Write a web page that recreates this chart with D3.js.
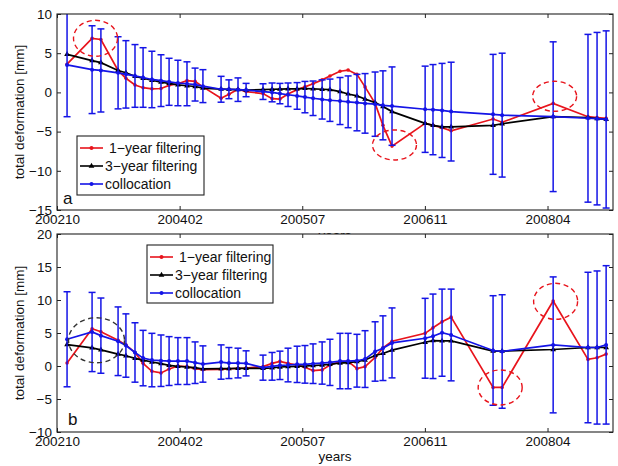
<!DOCTYPE html>
<html>
<head>
<meta charset="utf-8">
<script src="https://cdn.jsdelivr.net/npm/d3@7"></script>
<style>
  body { margin: 0; background: #fff; }
  text { font-family: "Liberation Sans", Arial, Helvetica, sans-serif; }
</style>
</head>
<body>
<svg id="chart" width="618" height="466"></svg>
<script>
// epochs shared by both panels
const dates = [
  "2002-11-25","2003-03-07","2003-04-12","2003-06-21","2003-07-23","2003-08-29","2003-10-01","2003-11-06",
  "2003-12-13","2004-01-15","2004-02-20","2004-03-28","2004-04-30","2004-06-01","2004-08-14","2004-09-15",
  "2004-10-22","2004-11-24","2005-02-01","2005-03-10","2005-04-11","2005-05-14","2005-06-20","2005-07-22",
  "2005-08-24","2005-09-30","2005-11-01","2005-12-12","2006-01-14","2006-02-19","2006-03-24","2006-05-04",
  "2006-06-05","2006-07-12","2006-11-24","2006-12-26","2007-02-01","2007-03-10","2007-08-28","2007-10-04",
  "2008-04-29","2008-09-18","2008-10-25","2008-12-01"
];
const xDomain = ["2002-10-15", "2008-12-29"];
const xTickDates = ["2002-10-15", "2004-02-27", "2005-07-11", "2006-11-23", "2008-04-06"];

// panel a
const oneYearA = [3.6,6.9,6.75,2.8,1.8,0.95,0.6,0.45,0.5,0.9,1.1,1.5,1.4,0.7,-0.75,-0.25,
  0.4,0.1,-0.15,-0.8,-0.85,-0.2,0.35,0.7,1.1,1.6,2.1,2.7,2.85,2.3,0.7,-1.4,
  -4.2,-6.85,-3.95,-4.2,-4.5,-4.9,-3.4,-3.8,-1.4,-3.1,-3.2,-3.3];
const threeYearA = [4.85,4.05,3.8,2.8,2.5,2.05,1.8,1.55,1.3,1.15,0.95,0.85,0.75,0.55,0.42,0.38,
  0.35,0.3,0.35,0.4,0.42,0.45,0.45,0.5,0.45,0.4,0.35,0.1,-0.2,-0.45,-0.85,-1.3,
  -1.8,-2.45,-3.95,-4.2,-4.4,-4.4,-4.2,-4.0,-3.1,-3.2,-3.35,-3.45];
const collocA = [3.5,2.9,2.8,2.5,2.3,2.1,1.9,1.65,1.5,1.35,1.2,1.1,1.0,0.8,0.4,0.4,
  0.35,0.3,0.1,0.0,-0.15,-0.3,-0.45,-0.6,-0.75,-0.9,-1.0,-1.1,-1.2,-1.3,-1.4,-1.5,
  -1.65,-1.75,-2.15,-2.2,-2.3,-2.45,-2.8,-2.9,-3.1,-3.3,-3.35,-3.45];
const errA = [6.6,5.6,5.3,4.6,4.3,4.0,3.8,3.6,3.3,3.0,2.9,2.8,2.1,2.1,1.65,1.2,
  1.5,0.85,1.0,1.2,1.3,1.5,1.7,2.0,2.2,2.5,2.7,3.0,3.3,3.6,3.8,4.1,
  4.4,5.0,5.5,5.75,6.0,6.3,7.65,7.9,9.55,10.7,11.0,11.3];
const yTicksA = [10, 5, 0, -5, -10, -15];
const circlesA = [["2003-03-21", 6.9], ["2006-07-22", -6.7], ["2008-05-05", -0.5]];

// panel b
const oneYearB = [0.45,5.65,5.2,3.9,3.2,2.05,0.4,-0.8,-1.05,-0.45,0.0,-0.1,-0.4,-0.55,-0.5,-0.45,
  -0.35,-0.3,-0.1,0.4,0.7,0.4,0.15,-0.2,-0.7,-0.6,0.15,0.65,0.7,-0.4,-0.1,1.3,
  2.75,3.75,4.95,5.8,6.7,7.4,-3.25,-3.25,9.85,1.0,1.25,1.8];
const threeYearB = [3.25,2.75,2.45,1.8,1.55,1.15,0.9,0.6,0.35,0.1,-0.05,-0.15,-0.25,-0.45,-0.4,-0.38,
  -0.36,-0.35,-0.35,-0.3,-0.15,-0.1,-0.05,0.0,0.05,0.15,0.25,0.45,0.5,0.65,0.9,1.6,
  1.9,2.4,3.6,3.85,3.8,3.8,2.25,2.25,2.5,2.8,2.8,2.8];
const collocB = [4.05,5.15,4.6,3.75,3.1,2.05,1.2,0.9,0.8,0.75,0.75,0.75,0.5,0.3,0.6,0.45,
  0.45,0.4,-0.25,-0.05,0.1,0.15,0.25,0.25,0.35,0.45,0.55,0.75,0.75,0.8,1.05,2.2,
  2.7,3.5,4.2,4.5,5.05,4.7,2.35,2.2,3.2,2.8,2.8,3.2];
const errB = [7.2,6.0,5.7,5.2,4.8,4.5,4.2,4.05,3.9,3.7,3.55,3.55,3.15,2.75,2.6,2.35,
  2.25,1.9,1.9,2.1,2.15,2.55,2.75,2.85,3.0,3.2,3.5,4.2,4.2,4.0,4.3,4.5,
  4.9,5.3,6.05,6.4,6.6,6.95,8.3,8.6,10.3,11.4,11.6,12.0];
const yTicksB = [20, 15, 10, 5, 0, -5, -10];
const circlesB = [["2003-03-25", 3.9], ["2007-09-26", -3.25], ["2008-05-09", 9.8]];

const seriesNames = ["1\u2212year filtering", "3\u2212year filtering", "collocation"];

const RED = "#e8141c", BLUE = "#1414e6", BLACK = "#000";
const parse = d3.timeParse("%Y-%m-%d");
const svg = d3.select("#chart");

const x = d3.scaleTime()
  .domain(xDomain.map(parse))
  .range([57, 613]);
const xt = xTickDates.map(parse);
const xd = dates.map(parse);

function drawPanel(cfg) {
  const y = d3.scaleLinear().domain(cfg.yDomain).range(cfg.yRange);
  const top = cfg.yRange[1], bottom = cfg.yRange[0];
  const g = svg.append("g");

  // white background (also hides the upper panel's x label)
  g.append("rect").attr("x", 57).attr("y", top).attr("width", 556).attr("height", bottom - top)
    .attr("fill", "#fff");

  const clipId = "clip" + cfg.id;
  g.append("clipPath").attr("id", clipId)
    .append("rect").attr("x", 57).attr("y", top).attr("width", 556).attr("height", bottom - top);
  const plot = g.append("g").attr("clip-path", `url(#${clipId})`);

  const line = d3.line().x((d, i) => x(xd[i])).y(d => y(d));

  // 1-year
  plot.append("path").datum(cfg.oneYear).attr("d", line)
    .attr("fill", "none").attr("stroke", RED).attr("stroke-width", 1.7);
  plot.selectAll(".r").data(cfg.oneYear).enter().append("circle")
    .attr("cx", (d, i) => x(xd[i])).attr("cy", d => y(d)).attr("r", 1.8).attr("fill", RED);

  // 3-year
  plot.append("path").datum(cfg.threeYear).attr("d", line)
    .attr("fill", "none").attr("stroke", BLACK).attr("stroke-width", 1.7);
  const tri = d3.symbol().type(d3.symbolTriangle).size(14);
  plot.selectAll(".k").data(cfg.threeYear).enter().append("path")
    .attr("d", tri).attr("transform", (d, i) => `translate(${x(xd[i])},${y(d)})`).attr("fill", BLACK);

  // collocation with error bars
  const eb = plot.selectAll(".eb").data(cfg.colloc).enter().append("g");
  eb.append("line")
    .attr("x1", (d, i) => x(xd[i])).attr("x2", (d, i) => x(xd[i]))
    .attr("y1", (d, i) => y(d - cfg.err[i])).attr("y2", (d, i) => y(d + cfg.err[i]));
  eb.append("line")
    .attr("x1", (d, i) => x(xd[i]) - 3.5).attr("x2", (d, i) => x(xd[i]) + 3.5)
    .attr("y1", (d, i) => y(d - cfg.err[i])).attr("y2", (d, i) => y(d - cfg.err[i]));
  eb.append("line")
    .attr("x1", (d, i) => x(xd[i]) - 3.5).attr("x2", (d, i) => x(xd[i]) + 3.5)
    .attr("y1", (d, i) => y(d + cfg.err[i])).attr("y2", (d, i) => y(d + cfg.err[i]));
  eb.selectAll("line").attr("stroke", BLUE).attr("stroke-width", 1.5);
  plot.append("path").datum(cfg.colloc).attr("d", line)
    .attr("fill", "none").attr("stroke", BLUE).attr("stroke-width", 1.7);
  plot.selectAll(".b").data(cfg.colloc).enter().append("circle")
    .attr("cx", (d, i) => x(xd[i])).attr("cy", d => y(d)).attr("r", 2).attr("fill", BLUE);

  // dashed annotation ellipses
  plot.selectAll(".ann").data(cfg.circles).enter().append("ellipse")
    .attr("cx", d => x(parse(d[0]))).attr("cy", d => y(d[1]))
    .attr("rx", (d, i) => cfg.rx[i]).attr("ry", (d, i) => cfg.ry[i])
    .attr("fill", "none").attr("stroke", (d, i) => cfg.circleColors[i])
    .attr("stroke-width", 1.4).attr("stroke-dasharray", "5,3.5");

  // axes, ticks inside as in matlab
  const fmt = d3.timeFormat("%Y%m");
  const ax = g.append("g").attr("transform", `translate(0,${bottom})`)
    .call(d3.axisBottom(x).tickValues(xt).tickFormat(fmt).tickSizeInner(-4).tickSizeOuter(0).tickPadding(6));
  g.append("g").attr("transform", `translate(0,${top})`)
    .call(d3.axisTop(x).tickValues(xt).tickFormat("").tickSizeInner(-4).tickSizeOuter(0));
  g.append("g").attr("transform", "translate(57,0)")
    .call(d3.axisLeft(y).tickValues(cfg.yTicks).tickFormat(d => d3.format("d")(d).replace("-", "\u2212"))
      .tickSizeInner(-4).tickSizeOuter(0).tickPadding(5));
  g.append("g").attr("transform", "translate(613,0)")
    .call(d3.axisRight(y).tickValues(cfg.yTicks).tickFormat("").tickSizeInner(-4).tickSizeOuter(0));
  g.selectAll(".domain").remove();
  g.selectAll(".tick line").attr("stroke", "#222");
  g.selectAll(".tick text").attr("font-size", 13.5).attr("fill", "#111")
    .style("font-family", '"Liberation Sans", Arial, sans-serif');
  ax.selectAll(".tick text").attr("dy", "0.6em");
  g.append("rect").attr("x", 57).attr("y", top).attr("width", 556).attr("height", bottom - top)
    .attr("fill", "none").attr("stroke", "#222").attr("stroke-width", 1.1);

  // y label
  g.append("text")
    .attr("transform", `translate(20,${(top + bottom) / 2}) rotate(-90)`)
    .attr("text-anchor", "middle").attr("dominant-baseline", "middle")
    .attr("font-size", 13.5).attr("fill", "#111").text("total deformation [mm]");

  // panel letter
  g.append("text").attr("x", cfg.letterPos[0]).attr("y", cfg.letterPos[1])
    .attr("font-size", 17).attr("fill", "#111").text(cfg.letter);

  // legend
  const L = cfg.legend;
  const lg = g.append("g");
  lg.append("rect").attr("x", L.x).attr("y", L.y).attr("width", L.w).attr("height", L.h)
    .attr("fill", "#fff").attr("stroke", "#222").attr("stroke-width", 1.1);
  const colors = [RED, BLACK, BLUE];
  seriesNames.forEach((name, i) => {
    const ry = L.y + 12 + i * 18;
    lg.append("line").attr("x1", L.x + 3).attr("x2", L.x + 26).attr("y1", ry).attr("y2", ry)
      .attr("stroke", colors[i]).attr("stroke-width", 1.6);
    if (i === 1) {
      lg.append("path").attr("d", tri).attr("transform", `translate(${L.x + 14.5},${ry})`).attr("fill", BLACK);
    } else {
      lg.append("circle").attr("cx", L.x + 14.5).attr("cy", ry).attr("r", 2).attr("fill", colors[i]);
    }
    lg.append("text").attr("x", L.x + (i === 0 ? 32 : 28)).attr("y", ry)
      .attr("dominant-baseline", "central").attr("font-size", 14).attr("fill", "#111").text(name);
  });
  return g;
}

// x label of panel a, mostly covered by panel b
svg.append("text").attr("x", 335).attr("y", 240).attr("text-anchor", "middle")
  .attr("font-size", 13.5).attr("fill", "#111").text("years");

drawPanel({
  id: "a", yDomain: [-15, 10], yRange: [210, 14], yTicks: yTicksA,
  oneYear: oneYearA, threeYear: threeYearA, colloc: collocA, err: errA,
  circles: circlesA, rx: [22, 22, 22], ry: [18, 15, 15], circleColors: [RED, RED, RED],
  legend: { x: 77, y: 136, w: 127, h: 59 }, letter: "a", letterPos: [63, 204]
});

drawPanel({
  id: "b", yDomain: [-10, 20], yRange: [432, 234], yTicks: yTicksB,
  oneYear: oneYearB, threeYear: threeYearB, colloc: collocB, err: errB,
  circles: circlesB, rx: [28, 22, 22], ry: [22.5, 17.5, 18], circleColors: ["#333", RED, RED],
  legend: { x: 147, y: 245, w: 126, h: 58 }, letter: "b", letterPos: [68, 425]
});

svg.append("text").attr("x", 335).attr("y", 461).attr("text-anchor", "middle")
  .attr("font-size", 13.5).attr("fill", "#111").text("years");
</script>
</body>
</html>
